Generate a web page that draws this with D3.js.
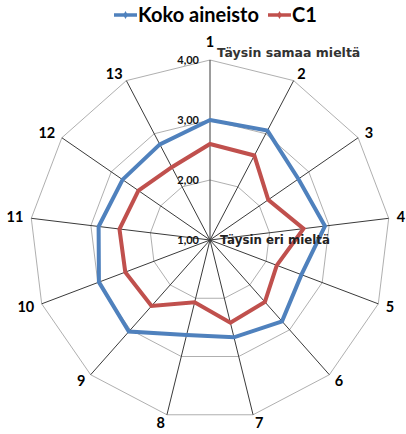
<!DOCTYPE html>
<html>
<head>
<meta charset="utf-8">
<script src="https://cdn.jsdelivr.net/npm/d3@7"></script>
<style>
  html, body { margin: 0; padding: 0; background: #fff; }
  svg { display: block; }
</style>
</head>
<body>
<svg id="chart" width="406" height="434"></svg>
<script>
// Statements 1–13, mean answers on a 1–4 scale
const axes = ["1", "2", "3", "4", "5", "6", "7", "8", "9", "10", "11", "12", "13"];
const kokoAineisto = [3.00, 3.06, 2.79, 2.93, 2.63, 2.81, 2.67, 2.63, 3.04, 2.98, 2.87, 2.77, 2.80];
const c1 = [2.60, 2.59, 2.18, 2.57, 2.19, 2.38, 2.42, 2.07, 2.47, 2.51, 2.52, 2.45, 2.37];
const seriesNames = ["Koko aineisto", "C1"];
const seriesColors = ["#4F81BD", "#C0504D"];
const ticks = [1, 2, 3, 4];
const topNote = "Täysin samaa mieltä";
const centerNote = "Täysin eri mieltä";

const svg = d3.select("#chart");
const cx = 210, cy = 240, R = 180;

const r = d3.scaleLinear().domain([1, 4]).range([0, R]);
const angle = d3.scaleLinear().domain([0, axes.length]).range([0, 2 * Math.PI]);

const pt = (i, v) => {
  const a = angle(i);
  return [cx + r(v) * Math.sin(a), cy - r(v) * Math.cos(a)];
};

const fmt = d3.formatLocale({ decimal: ",", thousands: " ", grouping: [3], currency: ["", "€"] }).format(".2f");

// Grid rings at the major ticks
const ring = d3.line();
svg.append("g")
  .selectAll("path")
  .data(ticks.filter(t => t > 1))
  .join("path")
  .attr("d", t => ring(axes.map((_, i) => pt(i, t))) + "Z")
  .attr("fill", "none")
  .attr("stroke", "#9a9a9a")
  .attr("stroke-width", 0.8);

// Spokes
svg.append("g")
  .selectAll("line")
  .data(axes)
  .join("line")
  .attr("x1", cx).attr("y1", cy)
  .attr("x2", (_, i) => pt(i, 4)[0])
  .attr("y2", (_, i) => pt(i, 4)[1])
  .attr("stroke", "#3a3a3a")
  .attr("stroke-width", 1);

// Series polygons
const series = [kokoAineisto, c1];
const radial = d3.lineRadial()
  .angle((_, i) => angle(i))
  .radius(d => r(d))
  .curve(d3.curveLinearClosed);

svg.append("g")
  .attr("transform", `translate(${cx},${cy})`)
  .selectAll("path")
  .data(series)
  .join("path")
  .attr("d", d => radial(d))
  .attr("fill", "none")
  .attr("stroke", (_, k) => seriesColors[k])
  .attr("stroke-width", 4)
  .attr("stroke-linejoin", "miter");

// Radial tick labels
svg.append("g")
  .selectAll("text")
  .data(ticks)
  .join("text")
  .attr("x", cx - 11)
  .attr("y", t => cy - r(t) + 3.5)
  .attr("text-anchor", "end")
  .attr("font-family", "Lato, sans-serif")
  .attr("font-weight", "bold")
  .attr("font-size", 11)
  .attr("fill", "#111")
  .text(t => fmt(t));

// Notes at the ends of the scale
svg.append("text")
  .attr("x", cx + 7)
  .attr("y", cy - R - 3.5)
  .attr("font-family", "DejaVu Sans, sans-serif")
  .attr("font-weight", "bold")
  .attr("font-size", 12.5)
  .attr("fill", "#333")
  .text(topNote);

svg.append("text")
  .attr("x", cx + 10)
  .attr("y", cy + 4)
  .attr("font-family", "DejaVu Sans, sans-serif")
  .attr("font-weight", "bold")
  .attr("font-size", 11.8)
  .attr("fill", "#222")
  .text(centerNote);

// Axis category labels just outside the outer ring
svg.append("g")
  .selectAll("text")
  .data(axes)
  .join("text")
  .each(function (d, i) {
    const a = angle(i);
    const s = Math.sin(a), c = Math.cos(a);
    const [ex, ey] = pt(i, 4);
    const anchor = s > 0.2 ? "start" : s < -0.2 ? "end" : "middle";
    const lift = Math.abs(s) < 0.01 ? 18 : 8;
    d3.select(this)
      .attr("x", ex + s * 8)
      .attr("y", ey - c * lift + 5)
      .attr("text-anchor", anchor);
  })
  .attr("font-family", "Lato, sans-serif")
  .attr("font-weight", "bold")
  .attr("font-size", 14.5)
  .attr("fill", "#000")
  .text(d => d);

// Legend
const legend = svg.append("g").attr("transform", "translate(0,15)");
const legendX = [114, 268];
seriesNames.forEach((name, k) => {
  const g = legend.append("g").attr("transform", `translate(${legendX[k]},0)`);
  g.append("line")
    .attr("x1", 0).attr("x2", 23)
    .attr("stroke", seriesColors[k]).attr("stroke-width", 3.5);
  g.append("path")
    .attr("d", d3.symbol(d3.symbolDiamond, 18)())
    .attr("transform", "translate(11.5,0)")
    .attr("fill", seriesColors[k]);
  g.append("text")
    .attr("x", 24).attr("y", 7)
    .attr("font-family", "Lato, sans-serif")
    .attr("font-weight", "bold")
    .attr("font-size", 20)
    .attr("fill", "#000")
    .text(name);
});
</script>
</body>
</html>
